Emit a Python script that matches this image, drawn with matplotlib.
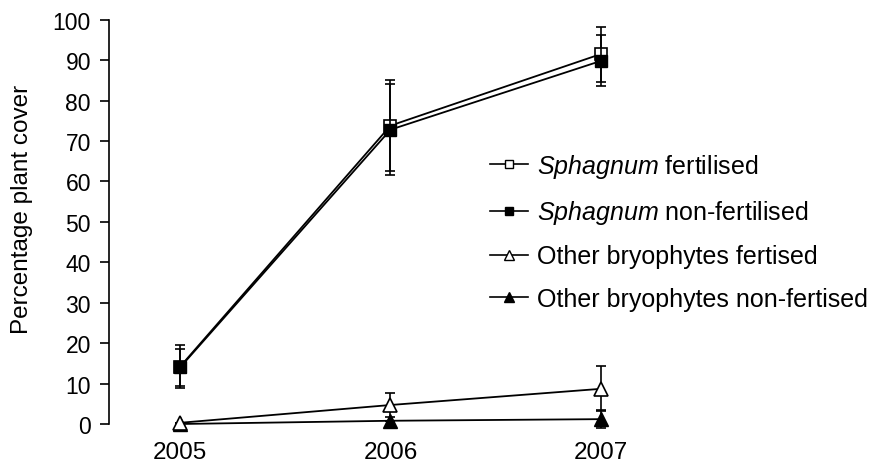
import matplotlib
matplotlib.use("Agg")
import matplotlib.pyplot as plt
from matplotlib.lines import Line2D

plt.rcParams['font.family'] = ['Liberation Sans', 'DejaVu Sans']
plt.rcParams['mathtext.fontset'] = 'custom'
plt.rcParams['mathtext.it'] = 'Liberation Sans:italic'
plt.rcParams['mathtext.rm'] = 'Liberation Sans'

years = [2005, 2006, 2007]
sph_fert = [14.2, 73.8, 91.5]
sph_fert_err = [5.3, 11.3, 6.8]
sph_nonfert = [14.0, 72.8, 89.8]
sph_nonfert_err = [4.6, 11.3, 6.3]
oth_fert = [0.3, 4.7, 8.7]
oth_fert_err = [0.0, 3.0, 5.6]
oth_nonfert = [0.0, 0.8, 1.2]
oth_nonfert_err = [0.0, 0.0, 2.3]

labels = [r'$\mathit{Sphagnum}$ fertilised',
          r'$\mathit{Sphagnum}$ non-fertilised',
          'Other bryophytes fertised',
          'Other bryophytes non-fertised']
yticks = list(range(0, 101, 10))

fig = plt.figure(figsize=(8.77, 4.64), dpi=100)
ax = fig.add_axes([109/877, 39/464, 563/877, 404.3/464])

common = dict(color='black', lw=1.3, elinewidth=1.2, capsize=3.5, capthick=1.2,
              clip_on=False)

ax.errorbar(years, sph_fert, yerr=sph_fert_err, marker='s', ms=9, mfc='white',
            mec='black', mew=1.2, zorder=3, **common)
ax.errorbar(years, sph_nonfert, yerr=sph_nonfert_err, marker='s', ms=9, mfc='black',
            mec='black', zorder=4, **common)
ax.errorbar(years, oth_nonfert, yerr=oth_nonfert_err, marker='^', ms=10, mfc='black',
            mec='black', zorder=3, **common)
ax.errorbar(years, oth_fert, yerr=oth_fert_err, marker='^', ms=10, mfc='white',
            mec='black', mew=1.2, zorder=4, **common)

for child in ax.get_children():
    try:
        child.set_clip_on(False)
    except Exception:
        pass

ax.set_xlim(2005 - 71/210, 2007 + 71/210)
ax.set_ylim(0, 100)
ax.set_yticks(yticks)
ax.set_xticks(years)
ax.tick_params(axis='y', direction='out', length=6.5, width=1.2, labelsize=16.5, pad=6.5)
ax.tick_params(axis='x', length=0, labelsize=17.5, pad=12)
for s in ['top', 'right', 'bottom']:
    ax.spines[s].set_visible(False)
ax.spines['left'].set_linewidth(1.2)
ax.set_ylabel('Percentage plant cover', fontsize=17.5)
ax.yaxis.set_label_coords(-0.135, 0.532)

handles = [
    Line2D([], [], color='black', lw=1.2, marker='s', ms=6, mfc='white', mec='black'),
    Line2D([], [], color='black', lw=1.2, marker='s', ms=6, mfc='black', mec='black'),
    Line2D([], [], color='black', lw=1.2, marker='^', ms=7, mfc='white', mec='black'),
    Line2D([], [], color='black', lw=1.2, marker='^', ms=7, mfc='black', mec='black'),
]
fig.legend(handles, labels, loc='upper left', bbox_to_anchor=(490/877, 1 - 153/464),
           frameon=False, fontsize=18, borderpad=0, borderaxespad=0,
           handlelength=1.52, handletextpad=0.36, labelspacing=0.73)

fig.savefig('out.png', dpi=100, facecolor='white')
